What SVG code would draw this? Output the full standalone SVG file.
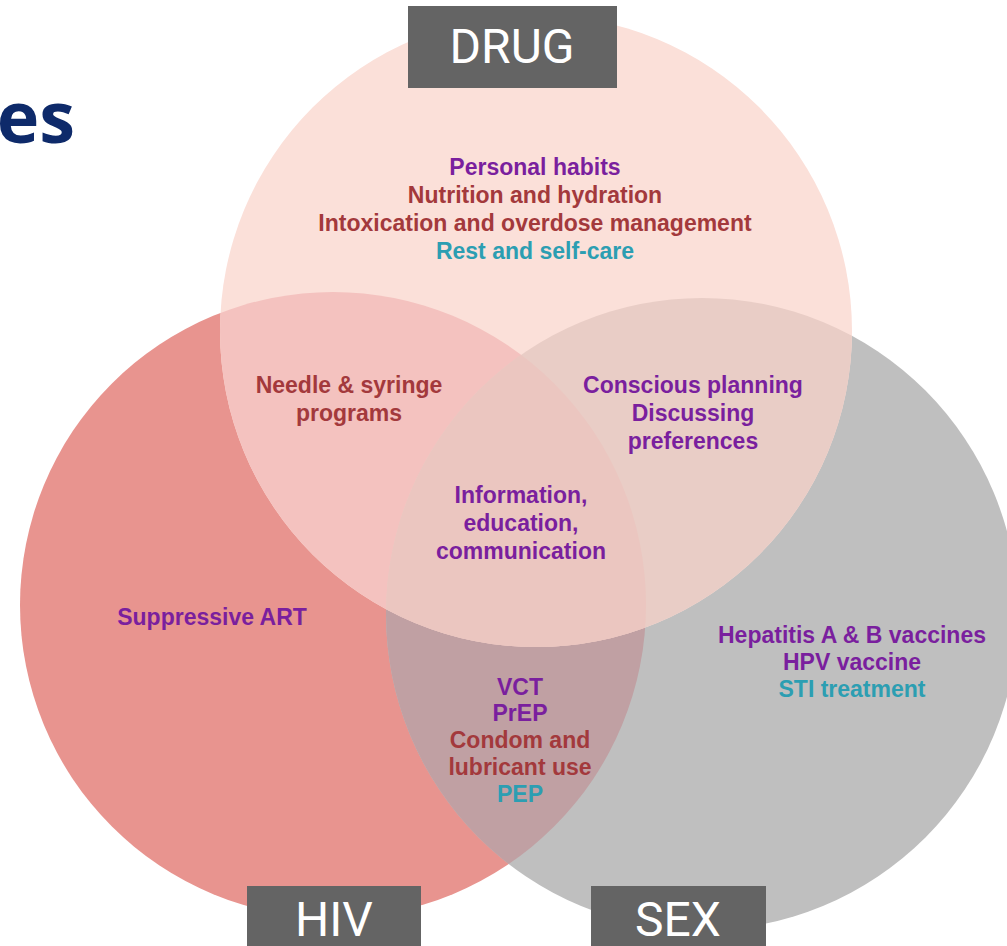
<svg xmlns="http://www.w3.org/2000/svg" width="1007" height="946" viewBox="0 0 1007 946">
<style>
.t{font-family:"Liberation Sans",Arial,sans-serif;font-weight:bold;font-size:23px;text-anchor:middle}
.pu{fill:#7A1F9E}
.rd{fill:#A3393C}
.tl{fill:#2C9EB2}
.lbl{font-family:Roboto,"Liberation Sans",sans-serif;font-size:48px;fill:#ffffff;text-anchor:middle}
.box{fill:#646464}
</style>
<defs>
<circle id="cD" cx="536" cy="331" r="316"/>
<circle id="cH" cx="333" cy="605" r="313"/>
<circle id="cS" cx="702" cy="614" r="316"/>
<clipPath id="clipH"><use href="#cH"/></clipPath>
<clipPath id="clipS"><use href="#cS"/></clipPath>
</defs>
<rect width="1007" height="946" fill="#ffffff"/>
<text x="75" y="143" font-family="'Open Sans','Liberation Sans',sans-serif" font-weight="bold" font-size="72" fill="#0E2A6A" text-anchor="end">es</text>
<g id="circles">
<use href="#cH" fill="#E8948F"/>
<use href="#cS" fill="#BFBFBF"/>
<use href="#cD" fill="#FBE0D9"/>
<use href="#cS" fill="#C0A0A3" clip-path="url(#clipH)"/>
<use href="#cD" fill="#F4C2BF" clip-path="url(#clipH)"/>
<use href="#cD" fill="#E9CDC6" clip-path="url(#clipS)"/>
<g clip-path="url(#clipS)"><use href="#cD" fill="#EBC6C0" clip-path="url(#clipH)"/></g>
</g>
<g id="connectors"></g>
<g id="drug">
<rect class="box" x="408" y="6" width="209" height="82"/>
<text class="lbl" x="512" y="63">DRUG</text>
</g>
<g id="hiv">
<rect class="box" x="247" y="886" width="174" height="60"/>
<text class="lbl" x="334" y="936">HIV</text>
</g>
<g id="sex">
<rect class="box" x="591" y="886" width="175" height="60"/>
<text class="lbl" x="678" y="936">SEX</text>
</g>
<g id="drug-only">
<text class="t pu" x="535" y="175">Personal habits</text>
<text class="t rd" x="535" y="203">Nutrition and hydration</text>
<text class="t rd" x="535" y="231">Intoxication and overdose management</text>
<text class="t tl" x="535" y="259">Rest and self-care</text>
</g>
<g id="drug-hiv">
<text class="t rd" x="349" y="393">Needle &amp; syringe</text>
<text class="t rd" x="349" y="421">programs</text>
</g>
<g id="drug-sex">
<text class="t pu" x="693" y="393">Conscious planning</text>
<text class="t pu" x="693" y="421">Discussing</text>
<text class="t pu" x="693" y="449">preferences</text>
</g>
<g id="all">
<text class="t pu" x="521" y="503">Information,</text>
<text class="t pu" x="521" y="531">education,</text>
<text class="t pu" x="521" y="559">communication</text>
</g>
<g id="hiv-only">
<text class="t pu" x="212" y="625">Suppressive ART</text>
</g>
<g id="sex-only">
<text class="t pu" x="852" y="643">Hepatitis A &amp; B vaccines</text>
<text class="t pu" x="852" y="670">HPV vaccine</text>
<text class="t tl" x="852" y="697">STI treatment</text>
</g>
<g id="hiv-sex">
<text class="t pu" x="520" y="695">VCT</text>
<text class="t pu" x="520" y="721">PrEP</text>
<text class="t rd" x="520" y="748">Condom and</text>
<text class="t rd" x="520" y="775">lubricant use</text>
<text class="t tl" x="520" y="802">PEP</text>
</g>
</svg>
